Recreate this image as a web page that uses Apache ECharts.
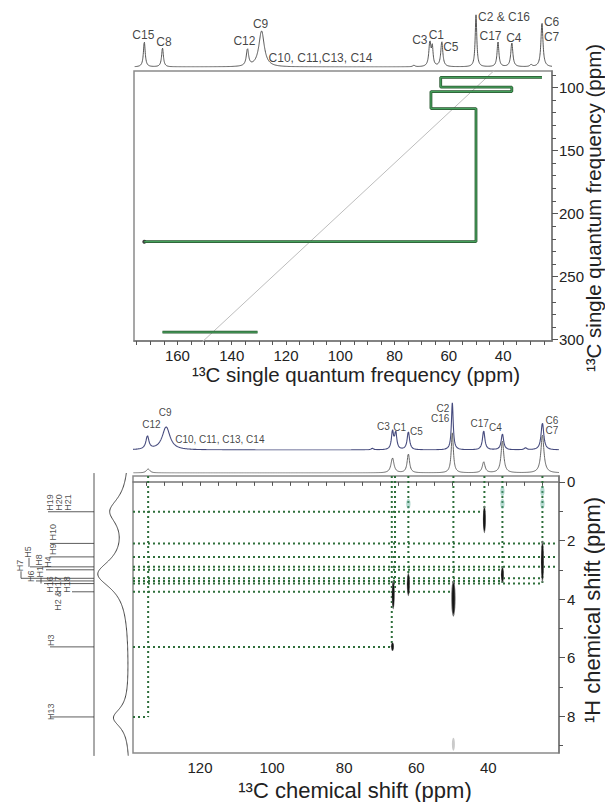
<!DOCTYPE html>
<html><head><meta charset="utf-8">
<script src="https://cdn.jsdelivr.net/npm/echarts@6/dist/echarts.min.js"></script>
<style>html,body{margin:0;padding:0;background:#fff}#c{width:605px;height:802px}</style>
</head><body><div id="c"></div>
<script>
// ================= DATA =================
// Top 13C 1D spectrum peaks: [ppm, height, half-width(ppm)]
const topPeaks = [[172.2,25,0.4],[165.5,19,0.4],[134.2,17,0.5],[129.0,36,1.2],[72.9,1.5,0.5],
  [67.0,24,0.45],[66.1,18,0.35],[62.6,25,0.45],[50.0,52,0.35],[41.9,25,0.4],[36.8,24,0.45],[29.7,2,0.5],[25.7,44,0.45]];
const topLabelText = ['C15','C8','C12','C9','C10, C11,C13, C14','C3','C1','C5','C2 & C16','C17','C4','C6\nC7'];
const topLabelPpm  = [172.2,165.5,134.2,129.0,129.0,67.0,66.1,62.6,50.0,41.9,36.8,25.7];
// INADEQUATE double-quantum connectivity path: SQ (x) and DQ (y)
const dqPathSQ = [25.7,63.0,63.0,36.8,36.8,66.6,66.6,50.0,50.0,172.2];
const dqPathDQ = [92.0,92.0,99.8,99.8,103.3,103.3,116.8,116.8,222.3,222.3];
const dqPair2SQ = [165.5,130.5];
const dqPair2DQ = [294.0,294.0];
const diagSQ = [40,160];   // diagonal DQ = 2*SQ
const diagDQ = [80,320];
// Bottom 13C spectra
const bluePeaks = [[134.6,13,0.5],[129.4,23,1.3],[72.2,1.5,0.4],[66.6,18,0.35],[65.7,17,0.35],[62.2,18,0.4],
  [50.0,47,0.3],[41.3,19,0.4],[36.1,16,0.4],[29.7,2,0.4],[25.0,27,0.45]];
const grayPeaks = [[134.4,4,0.6],[66.6,15,0.5],[62.2,19,0.4],[50.0,40,0.35],[41.3,11,0.45],[36.1,32,0.45],[25.0,38,0.5]];
const botLabelText = ['C12','C9','C10, C11, C13, C14','C3','C1','C5','C2\nC16','C17','C4','C6\nC7'];
const botLabelPpm  = [134.6,129.4,129.4,66.6,65.7,62.2,50.0,41.3,36.1,25.0];
// 1H projection peaks: [ppm, height, half-width]
const hPeaks = [[1.0,18,0.55],[3.15,31,0.6],[8.05,16,0.4]];
// 1H assignment sticks (ppm) and labels
const hStickPpm = [1.02,2.10,2.56,2.90,3.00,3.29,3.38,3.47,3.75,5.63,8.02];
const hLabelText = ['H19','H20','H21','H10','H9','H5','H8','H4','H7','H6','H1','H16','H17','H18','H2 &','H3','H13'];
const hLabelStick = [0,0,0,1,2,3,3,4,5,6,7,8,8,8,8,9,10];   // index into hStickPpm
// Correlations: vertical dotted lines [13C ppm, end 1H ppm]
const vLineC = [134.4,66.8,65.9,62.2,49.7,41.1,36.1,25.0];
const vLineH = [8.02,5.63,3.75,3.75,3.75,1.02,3.47,3.47];
// Horizontal dotted lines [1H ppm, end 13C ppm]
const hLineH = [1.02,2.10,2.56,2.90,3.00,3.29,3.38,3.47,3.75,5.63,8.02];
const hLineC = [41.1,21.0,21.0,21.0,36.1,25.0,36.1,25.0,49.7,66.8,134.4];
// Cross peaks: [13C, 1H centre, 1H half-extent, 13C half-extent]
const crossPeaks = [[66.4,3.85,0.5,0.38],[66.6,5.62,0.15,0.3],[62.2,3.5,0.4,0.38],[49.7,3.98,0.62,0.6],
  [41.1,1.28,0.47,0.38],[36.1,3.17,0.28,0.32],[25.0,2.72,0.72,0.38]];
const tealSpots = [[36.1,0.32],[36.1,0.75],[25.0,0.32],[25.0,0.75],[62.2,0.75]];
const faintSpots = [[49.7,8.95]];
// axis ticks
const topXLabels = [160,140,120,100,80,60,40];
const topYLabels = [100,150,200,250,300];
const botXLabels = [120,100,80,60,40];
const botYLabels = [0,2,4,6,8];

// ================= LAYOUT / STYLE =================
const FONT = '"Liberation Sans", Arial, Helvetica, sans-serif';
const range = (a,b,s)=>{const r=[];for(let v=a;v<=b+1e-9;v+=s)r.push(+v.toFixed(4));return r;};
function spectrum(peaks, lo, hi, step, vertical){
  const out=[];
  for(let x=lo;x<=hi+1e-9;x+=step){
    let y=0; for(const [p,h,w] of peaks){ y+=h*w*w/((x-p)*(x-p)+w*w); }
    out.push(vertical?[y,+x.toFixed(3)]:[+x.toFixed(3),y]);
  }
  return out;
}
const peakH = (peaks,p)=>{let y=0;for(const [c,h,w] of peaks){y+=h*w*w/((p-c)*(p-c)+w*w);}return y;};

const hidden = {show:false};
const axisLineStyle = {lineStyle:{color:'#777',width:1.5}};
const tickLabel = {color:'#222',fontSize:15,fontFamily:FONT};

const grids = [
  {left:134, width:418, top:5, height:62},     // 0 top spectrum
  {left:134, width:418, top:71, height:270, show:true, borderColor:'#8a8a8a', borderWidth:1.5}, // 1 top 2D
  {left:133, width:426, top:395, height:55},   // 2 blue spectrum
  {left:133, width:426, top:418, height:55},   // 3 gray spectrum
  {left:133, width:426, top:476, height:277, show:true, borderColor:'#8a8a8a', borderWidth:1.5}, // 4 bottom 2D
  {left:90, width:43, top:476, height:277},    // 5 1H projection
  {left:0, width:94, top:476, height:277}      // 6 1H labels
];
const T = [22,176], B = [20.4,138.6], HY = [-0.2,9.25], DQ = [87,301];
const PX_PER_H = 277/(HY[1]-HY[0]);
const xAxes = [
  {gridIndex:0, type:'value', min:T[0], max:T[1], inverse:true, show:false},
  {gridIndex:1, type:'value', min:T[0], max:T[1], inverse:true, position:'bottom',
    axisLine:axisLineStyle, splitLine:hidden,
    axisTick:{show:true, length:4, lineStyle:{color:'#555'}, customValues:range(25,175,5)},
    axisLabel:Object.assign({customValues:topXLabels, margin:7}, tickLabel)},
  {gridIndex:2, type:'value', min:B[0], max:B[1], inverse:true, show:false},
  {gridIndex:3, type:'value', min:B[0], max:B[1], inverse:true, show:false},
  {gridIndex:4, type:'value', min:B[0], max:B[1], inverse:true, position:'bottom',
    axisLine:axisLineStyle, splitLine:hidden,
    axisTick:{show:true, length:4, lineStyle:{color:'#555'}, customValues:range(25,135,5)},
    axisLabel:Object.assign({customValues:botXLabels, margin:7}, tickLabel)},
  {gridIndex:5, type:'value', min:-3, max:40, inverse:true, show:false},
  {gridIndex:6, type:'value', min:0, max:94, show:false}
];
const yAxes = [
  {gridIndex:0, type:'value', min:0, max:62, show:false},
  {gridIndex:1, type:'value', min:DQ[0], max:DQ[1], inverse:true, position:'right',
    axisLine:axisLineStyle, splitLine:hidden,
    axisTick:{show:true, length:6, lineStyle:{color:'#555'}, customValues:topYLabels},
    axisLabel:Object.assign({customValues:topYLabels, margin:7}, tickLabel)},
  {gridIndex:1, type:'value', min:DQ[0], max:DQ[1], inverse:true, position:'right',
    axisLine:{show:false}, splitLine:hidden, axisLabel:{show:false},
    axisTick:{show:true, length:4, lineStyle:{color:'#555'}, customValues:range(90,300,10)}},
  {gridIndex:2, type:'value', min:0, max:55, show:false},
  {gridIndex:3, type:'value', min:0, max:55, show:false},
  {gridIndex:4, type:'value', min:HY[0], max:HY[1], inverse:true, position:'right',
    axisLine:axisLineStyle, splitLine:hidden,
    axisTick:{show:true, length:6, lineStyle:{color:'#555'}, customValues:botYLabels},
    axisLabel:Object.assign({customValues:botYLabels, margin:8}, tickLabel)},
  {gridIndex:4, type:'value', min:HY[0], max:HY[1], inverse:true, position:'right',
    axisLine:{show:false}, splitLine:hidden, axisLabel:{show:false},
    axisTick:{show:true, length:4, lineStyle:{color:'#555'}, customValues:range(0,9,1)}},
  {gridIndex:5, type:'value', min:HY[0], max:HY[1], inverse:true, show:false},
  {gridIndex:6, type:'value', min:HY[0], max:HY[1], inverse:true, show:false}
];

const series = [];
const line = (xi, yi, data, style, extra) => series.push(Object.assign({type:'line', xAxisIndex:xi, yAxisIndex:yi,
  data, symbol:'none', silent:true, animation:false, lineStyle:style}, extra||{}));

// spectra
line(0,0,spectrum(topPeaks,T[0],T[1],0.05),{color:'#555',width:1});
line(2,3,spectrum(bluePeaks,B[0],B[1],0.05),{color:'#464b7e',width:1.1});
line(3,4,spectrum(grayPeaks,B[0],B[1],0.05),{color:'#666',width:1});
line(5,7,spectrum(hPeaks,-0.3,9.35,0.02,true),{color:'#444',width:1},{clip:false});

// top spectrum labels
const topOff = [[-1,-7],[1.5,-6],[-3,-7],[-1,-7],[7,27],[-10,0],[4,-9],[9,6],[2,2],[-7.5,-6],[2,-5],[2,6.5]];
const topAlign = ['center','center','center','center','left','center','center','center','left','center','center','left'];
series.push({type:'scatter', xAxisIndex:0, yAxisIndex:0, symbolSize:0, silent:true, animation:false,
  data: topLabelText.map((t,i)=>({value:[topLabelPpm[i], peakH(topPeaks, topLabelPpm[i])],
    label:{show:true, formatter:t, position:'inside', offset:topOff[i], align:topAlign[i],
      fontSize:12, lineHeight:15, fontFamily:FONT, color:'#111'}}))});
// bottom spectrum labels
const botOff = [[4,-11],[-1,-14],[9,13],[-9,-3],[4,-3],[8,0],[-3,11],[-4,-7],[-7,-6.5],[3,2.5]];
const botAlign = ['center','center','left','center','center','center','right','center','center','left'];
series.push({type:'scatter', xAxisIndex:2, yAxisIndex:3, symbolSize:0, silent:true, animation:false,
  data: botLabelText.map((t,i)=>({value:[botLabelPpm[i], peakH(bluePeaks, botLabelPpm[i])],
    label:{show:true, formatter:t, position:'inside', offset:botOff[i], align:botAlign[i],
      fontSize:10, lineHeight:10, fontFamily:FONT, color:'#111'}}))});

// top 2D: diagonal + DQ path
line(1,1,diagSQ.map((v,i)=>[v,diagDQ[i]]),{color:'#bdbdbd',width:1});
const pathOuter = {color:'#28562f',width:2.8}, pathInner = {color:'#46a05c',width:1.3};
line(1,1,dqPathSQ.map((v,i)=>[v,dqPathDQ[i]]),pathOuter);
line(1,1,dqPathSQ.map((v,i)=>[v,dqPathDQ[i]]),pathInner);
line(1,1,dqPair2SQ.map((v,i)=>[v,dqPair2DQ[i]]),pathOuter);
line(1,1,dqPair2SQ.map((v,i)=>[v,dqPair2DQ[i]]),pathInner);
series.push({type:'scatter', xAxisIndex:1, yAxisIndex:1, symbolSize:4, silent:true, animation:false,
  itemStyle:{color:'#111'}, data:[[dqPathSQ[dqPathSQ.length-1], dqPathDQ[dqPathDQ.length-1]]]});

// bottom 2D: dotted correlation lines
const dotted = {color:'#2d6e3a', width:2, type:[2,3]};
vLineC.forEach((c,i)=>line(4,5,[[c,HY[0]],[c,vLineH[i]]],dotted));
hLineH.forEach((h,i)=>line(4,5,[[B[1],h],[hLineC[i],h]],dotted));
// cross peaks
function ellipse(fillOuter, fillInner){
  return function(params, api){
    const c = api.coord([api.value(0), api.value(1)]);
    const s = api.size([api.value(3), api.value(2)]);
    const kids = [{type:'circle', shape:{cx:0,cy:0,r:1}, x:c[0], y:c[1], scaleX:Math.max(s[0],1.5), scaleY:Math.max(s[1],1.5), style:{fill:fillOuter}}];
    if(fillInner) kids.push({type:'circle', shape:{cx:0,cy:0,r:1}, x:c[0], y:c[1], scaleX:Math.max(s[0]*0.6,1), scaleY:Math.max(s[1]*0.85,1), style:{fill:fillInner}});
    return {type:'group', children:kids};
  };
}
series.push({type:'custom', xAxisIndex:4, yAxisIndex:5, silent:true, animation:false, z:5,
  renderItem:ellipse('#707070','#141414'), data:crossPeaks});
series.push({type:'custom', xAxisIndex:4, yAxisIndex:5, silent:true, animation:false, z:5,
  renderItem:ellipse('rgba(90,170,150,0.45)',null), data:tealSpots.map(d=>[d[0],d[1],0.17,0.6])});
series.push({type:'custom', xAxisIndex:4, yAxisIndex:5, silent:true, animation:false, z:5,
  renderItem:ellipse('rgba(150,150,150,0.5)',null), data:faintSpots.map(d=>[d[0],d[1],0.22,0.15])});

// 1H sticks & labels (layout in px)
const stickStartX = [48,50,50,30,46,21,36,44,72,50,50];
line(6,8,[[94,-0.3],[94,9.35]],{color:'#555',width:1},{clip:false});
hStickPpm.forEach((p,i)=>line(6,8,[[stickStartX[i],p],[94,p]],{color:'#333',width:0.8},{clip:false}));
// label columns (px) and vertical shift of the label foot from its stick (px)
const hLabelX  = [50,59,68,53,53,28,39,48,20,31,40,50,58,67,58,51,51];
const hLabelDy = [-1,-1,-1,-3,-2,-9,-1,-2,-7,1,-6,1,1,1,19,-1,3];
const stickOf = i => hStickPpm[hLabelStick[i]];
// connectors for labels sitting above their stick (H5, H7, H1)
[5,8,10].forEach(i=>line(6,8,[[hLabelX[i]+1, stickOf(i)+hLabelDy[i]/PX_PER_H],[hLabelX[i]+1, stickOf(i)]],{color:'#333',width:0.8},{clip:false}));
series.push({type:'scatter', xAxisIndex:6, yAxisIndex:8, symbolSize:0, silent:true, animation:false,
  data: hLabelText.map((t,i)=>({value:[hLabelX[i], stickOf(i)+hLabelDy[i]/PX_PER_H],
    label:{show:true, formatter:t, rotate:90, position:'inside', align:'left', verticalAlign:'middle',
      fontSize:9, fontFamily:FONT, color:'#222'}}))});

const titleTop = {fontSize:20.5, fontFamily:FONT, fill:'#222'};
const titleBot = {fontSize:22, fontFamily:FONT, fill:'#222'};
const chart = echarts.init(document.getElementById('c'), null, {renderer:'svg'});
chart.setOption({
  animation:false,
  grid:grids, xAxis:xAxes, yAxis:yAxes, series,
  graphic:[
    {type:'text', x:356, y:374, style:Object.assign({text:'¹³C single quantum frequency (ppm)', textAlign:'center', textVerticalAlign:'middle'}, titleTop)},
    {type:'text', x:593, y:208, rotation:Math.PI/2, style:Object.assign({text:'¹³C single quantum frequency (ppm)', textAlign:'center', textVerticalAlign:'middle'}, titleTop)},
    {type:'text', x:355, y:790, style:Object.assign({text:'¹³C chemical shift (ppm)', textAlign:'center', textVerticalAlign:'middle'}, titleBot)},
    {type:'text', x:592, y:610, rotation:Math.PI/2, style:Object.assign({text:'¹H chemical shift (ppm)', textAlign:'center', textVerticalAlign:'middle'}, titleBot)}
  ]
});
</script></body></html>
